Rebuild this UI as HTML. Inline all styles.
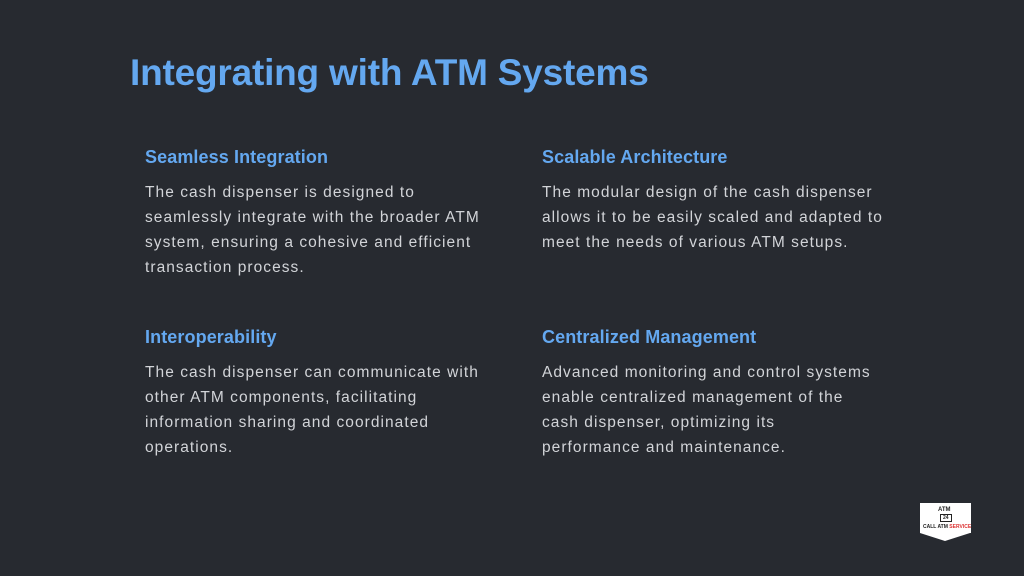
<!DOCTYPE html>
<html><head><meta charset="utf-8"><style>
html,body{margin:0;padding:0}
body{width:1024px;height:576px;background:#272a30;position:relative;overflow:hidden;font-family:"Liberation Sans",sans-serif}
.t{position:absolute;left:130px;top:52px;font-size:37px;font-weight:bold;color:#64a8f0;letter-spacing:-0.2px;white-space:nowrap}
.h{position:absolute;font-size:18px;font-weight:bold;color:#64a8f0;white-space:nowrap;letter-spacing:0.1px}
.p{position:absolute;font-size:15.5px;line-height:25px;color:#d2d4d8;white-space:nowrap;letter-spacing:1.05px}
.logo{position:absolute;left:920px;top:503px;width:51px;height:30px;background:#fff}
.logo:after{content:"";position:absolute;left:0;top:30px;border-left:25.5px solid transparent;border-right:25.5px solid transparent;border-top:8px solid #fff}
.logo span{position:absolute;font-size:5px;font-weight:bold;color:#222;white-space:nowrap}
</style></head><body>
<div class="t">Integrating with ATM Systems</div>

<div class="h" style="left:145px;top:147px">Seamless Integration</div>
<div class="p" style="left:145px;top:180px">The cash dispenser is designed to<br>seamlessly integrate with the broader ATM<br>system, ensuring a cohesive and efficient<br>transaction process.</div>

<div class="h" style="left:542px;top:147px">Scalable Architecture</div>
<div class="p" style="left:542px;top:180px">The modular design of the cash dispenser<br>allows it to be easily scaled and adapted to<br>meet the needs of various ATM setups.</div>

<div class="h" style="left:145px;top:327px">Interoperability</div>
<div class="p" style="left:145px;top:360px">The cash dispenser can communicate with<br>other ATM components, facilitating<br>information sharing and coordinated<br>operations.</div>

<div class="h" style="left:542px;top:327px">Centralized Management</div>
<div class="p" style="left:542px;top:360px">Advanced monitoring and control systems<br>enable centralized management of the<br>cash dispenser, optimizing its<br>performance and maintenance.</div>

<div class="logo">
<span style="left:18px;top:4px;font-size:6px">ATM</span>
<span style="left:20px;top:11px;border:1px solid #222;padding:0 2px;font-size:5px">24</span>
<span style="left:3px;top:21px">CALL ATM <span style="position:static;color:#d33">SERVICE</span></span>
</div>
</body></html>
